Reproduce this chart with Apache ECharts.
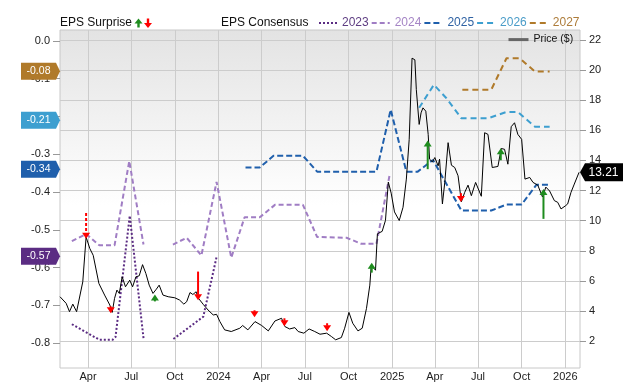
<!DOCTYPE html>
<html><head><meta charset="utf-8">
<script src="https://cdn.jsdelivr.net/npm/echarts@6/dist/echarts.min.js"></script>
<style>html,body{margin:0;padding:0;background:#fff}#c{width:640px;height:382px}</style>
</head><body><div id="c"></div>
<script>
const FONT = '"Liberation Sans", Arial, Helvetica, sans-serif';

// ---------- data ----------
const priceDates = ['2023-02-01','2023-02-14','2023-02-21','2023-02-28','2023-03-08','2023-03-21','2023-03-28','2023-04-05','2023-04-12','2023-04-24',
'2023-05-06','2023-05-17','2023-05-22','2023-05-27','2023-06-01','2023-06-06','2023-06-12','2023-06-19','2023-06-28','2023-07-04',
'2023-07-11','2023-07-18','2023-07-25','2023-08-01','2023-08-08','2023-08-16','2023-08-23','2023-08-29','2023-09-06','2023-09-17',
'2023-10-01','2023-10-11','2023-10-20','2023-10-26','2023-11-02','2023-11-08','2023-11-15','2023-11-19','2023-11-30','2023-12-10',
'2023-12-21','2023-12-28','2024-01-04','2024-01-14','2024-01-28','2024-02-15','2024-02-21','2024-03-03','2024-03-18','2024-04-01',
'2024-04-15','2024-04-29','2024-05-13','2024-05-20','2024-05-30','2024-06-10','2024-06-17','2024-06-29','2024-07-10','2024-07-22',
'2024-08-02','2024-08-16','2024-08-26','2024-09-04','2024-09-16','2024-09-23','2024-10-02','2024-10-10','2024-10-21','2024-10-30',
'2024-11-08','2024-11-15','2024-11-18','2024-11-27','2024-12-01','2024-12-11','2024-12-18','2024-12-24','2024-12-30','2025-01-06',
'2025-01-16','2025-01-24','2025-01-31','2025-02-06','2025-02-12','2025-02-18','2025-02-21','2025-02-27','2025-03-03','2025-03-07',
'2025-03-13','2025-03-18','2025-03-21','2025-03-27','2025-04-01','2025-04-08','2025-04-11','2025-04-17','2025-04-22','2025-04-29',
'2025-05-06','2025-05-13','2025-05-20','2025-05-27','2025-06-03','2025-06-10','2025-06-17','2025-06-26','2025-07-08','2025-07-15',
'2025-07-22','2025-07-31','2025-08-12','2025-08-19','2025-08-26','2025-09-02','2025-09-09','2025-09-16','2025-09-23','2025-10-01',
'2025-10-08','2025-10-18','2025-10-25','2025-11-04','2025-11-14','2025-11-21','2025-11-29','2025-12-09','2025-12-16','2025-12-23',
'2026-01-01','2026-01-06','2026-01-13','2026-01-20','2026-01-30'];
const priceValues = [4.95,4.51,3.96,4.46,3.96,5.94,8.91,8.14,7.70,5.83,
5.06,4.40,3.91,4.84,5.39,5.17,6.27,5.61,6.05,5.61,
6.27,6.34,7.08,6.49,5.72,5.17,5.45,5.72,5.06,4.95,
4.88,4.73,4.46,4.62,5.23,5.10,5.28,4.88,4.44,4.07,
3.74,3.78,3.30,2.75,2.64,2.86,3.04,2.75,3.30,3.04,
2.68,3.34,3.52,2.97,2.81,2.90,2.64,2.53,2.81,2.64,
2.46,2.53,2.31,2.09,2.24,2.86,3.91,3.19,2.68,2.86,
4.18,5.72,7.04,6.71,9.13,9.29,10.02,12.56,11.83,10.58,
10.01,10.89,12.76,15.40,20.79,20.68,18.70,16.39,17.16,17.49,
17.27,15.73,14.08,13.90,14.19,13.64,14.08,11.11,12.54,15.18,
13.68,13.53,12.98,11.26,11.88,12.36,11.66,12.54,11.62,15.84,
15.73,13.53,13.60,14.79,14.74,13.75,16.24,16.50,15.73,15.40,
12.76,12.87,12.54,12.36,11.57,12.23,11.97,11.33,11.22,10.78,
10.98,11.11,11.88,12.43,13.21];

const eps2023Dates  = ['2023-02-26','2023-04-25','2023-05-23','2023-05-29','2023-06-28','2023-07-27','2023-08-20','2023-09-28','2023-11-30','2023-12-28'];
const eps2023Values = [-0.750,-0.791,-0.791,-0.784,-0.463,-0.787,null,-0.789,-0.730,-0.572];

const eps2024Dates  = ['2023-02-26','2023-03-28','2023-04-25','2023-05-27','2023-06-27','2023-07-27','2023-08-20','2023-09-27','2023-10-26','2023-11-26','2023-12-28',
'2024-01-28','2024-02-25','2024-03-28','2024-04-29','2024-06-27','2024-07-27','2024-09-27','2024-10-28','2024-11-29','2024-12-27'];
const eps2024Values = [-0.530,-0.511,-0.541,-0.541,-0.318,-0.539,null,-0.539,-0.521,-0.568,-0.373,
-0.574,-0.467,-0.467,-0.434,-0.434,-0.519,-0.521,-0.537,-0.537,-0.353];

const eps2025Dates  = ['2024-02-27','2024-03-28','2024-04-26','2024-06-27','2024-07-27','2024-11-29','2024-12-29','2025-01-31','2025-02-24','2025-03-28',
'2025-05-27','2025-07-29','2025-08-30','2025-10-01','2025-11-01','2025-11-29'];
const eps2025Values = [-0.335,-0.335,-0.304,-0.304,-0.346,-0.346,-0.182,-0.346,-0.346,-0.315,
-0.449,-0.449,-0.433,-0.433,-0.381,-0.381];

const eps2026Dates  = ['2025-02-27','2025-03-30','2025-04-25','2025-05-27','2025-07-22','2025-08-30','2025-09-23','2025-10-29','2025-11-29'];
const eps2026Values = [-0.177,-0.116,-0.151,-0.205,-0.205,-0.188,-0.188,-0.227,-0.227];

const eps2027Dates  = ['2025-05-29','2025-07-29','2025-08-30','2025-09-27','2025-10-29','2025-11-29'];
const eps2027Values = [-0.129,-0.129,-0.046,-0.046,-0.081,-0.081];

const surpriseDates  = ['2023-03-28','2023-05-19','2023-08-20','2023-11-19','2024-03-17','2024-05-19','2024-08-17','2024-11-19','2025-03-17','2025-05-26','2025-08-18','2025-11-16'];
const surpriseFrom   = [10.51,4.31,4.64,6.62,4.05,3.52,3.19,6.55,13.42,11.83,14.01,10.12];
const surpriseTo     = [8.80,3.85,5.10,4.71,3.58,2.99,2.66,7.21,15.33,11.24,14.81,12.10];
const surpriseDashed = [1,0,0,0,0,0,0,0,0,0,0,0];

const badgeYears  = ['2027','2026','2025','2023'];
const badgeValues = [-0.08,-0.21,-0.34,-0.57];

const xTickDates = ['2023-04-01','2023-07-01','2023-10-01','2024-01-01','2024-04-01','2024-07-01','2024-10-01','2025-01-01','2025-04-01','2025-07-01','2025-10-01','2026-01-01'];
const epsTicks   = [0,-0.1,-0.2,-0.3,-0.4,-0.5,-0.6,-0.7,-0.8];
const priceTicks = [2,4,6,8,10,12,14,16,18,20,22];
const xStart = '2023-02-01', xEnd = '2026-02-01';

// ---------- helpers ----------
function ts(s){ const p = s.split('-').map(Number); return Date.UTC(p[0], p[1]-1, p[2]); }
const MONTHS = ['Jan','Feb','Mar','Apr','May','Jun','Jul','Aug','Sep','Oct','Nov','Dec'];
const yearColors = {'2023':'#5b2c83','2024':'#a07dc4','2025':'#1f5fac','2026':'#3d9fd0','2027':'#b07a2a'};
const yearText   = {'2023':'#5e3d82','2024':'#a585c5','2025':'#2f62a3','2026':'#4a9cc8','2027':'#ad7c3a'};
const yearDash   = {'2023':[2,2],'2024':[5,3],'2025':[6,3],'2026':[6,4],'2027':[6,4]};
const epsSets = {'2023':[eps2023Dates,eps2023Values],'2024':[eps2024Dates,eps2024Values],'2025':[eps2025Dates,eps2025Values],'2026':[eps2026Dates,eps2026Values],'2027':[eps2027Dates,eps2027Values]};
const xMin = ts(xStart), xMax = ts(xEnd);
const HIDE_SYMBOL = {color:'rgba(0,0,0,0)', borderColor:'rgba(0,0,0,0)', borderWidth:0, opacity:0};

function epsSeries(year){
  const [ds, vs] = epsSets[year];
  const s = {
    type:'line', name:year, xAxisIndex:0, yAxisIndex:0, symbol:'none', showSymbol:false,
    connectNulls:false, z:3, silent:true,
    lineStyle:{color:yearColors[year], width:2, type:yearDash[year]},
    itemStyle:{color:yearColors[year]},
    data: ds.map((d,i)=>[ts(d), vs[i] === null ? '-' : vs[i]])
  };
  const bi = badgeYears.indexOf(year);
  if (bi >= 0){
    s.markPoint = {
      silent:true, animation:false,
      symbol:'path://M0,0L35,0L39,8.5L35,17L0,17Z', symbolSize:[39,17], symbolKeepAspect:false,
      symbolOffset:[-19.5,0],
      itemStyle:{color:yearColors[year]},
      label:{show:true, position:'inside', color:'#fff', fontSize:10.5, fontFamily:FONT, offset:[-2,0],
        formatter:(p)=>p.value.toFixed(2)},
      data:[{coord:[xMin, badgeValues[bi]], value:badgeValues[bi]}]
    };
  }
  return s;
}

const lastPrice = priceValues[priceValues.length-1];

const option = {
  animation:false,
  textStyle:{fontFamily:FONT},
  grid:{left:60, right:60, top:30, bottom:12, show:true, borderColor:'#c8c8c8', borderWidth:1,
    backgroundColor:{type:'linear', x:0, y:0, x2:0, y2:1, colorStops:[{offset:0,color:'#e3e3e3'},{offset:0.52,color:'#ffffff'},{offset:1,color:'#ffffff'}]}},
  legend:[
    {data:['2023','2024','2025','2026','2027'].map(y=>({name:y, textStyle:{color:yearText[y]}, itemStyle:HIDE_SYMBOL})),
     left:318, top:17, padding:0, itemWidth:18, itemHeight:14, itemGap:2, selectedMode:false,
     textStyle:{fontSize:12, fontFamily:FONT}},
    {data:[{name:'Price ($)', itemStyle:HIDE_SYMBOL, lineStyle:{color:'#666', width:3}}],
     left:507, top:34, padding:0, itemWidth:20, itemHeight:14, selectedMode:false,
     textStyle:{fontSize:10.5, fontFamily:FONT, color:'#111'}}
  ],
  xAxis:{type:'value', min:xMin, max:xMax,
    axisLine:{show:false}, axisTick:{show:false, customValues:xTickDates.map(ts)},
    splitLine:{show:true, lineStyle:{color:'#cccccc', width:1}},
    axisLabel:{customValues:xTickDates.map(ts), margin:3, fontSize:11, color:'#222', fontFamily:FONT,
      formatter:(v)=>{ const d=new Date(v); return d.getUTCMonth()===0 ? String(d.getUTCFullYear()) : MONTHS[d.getUTCMonth()]; }}},
  yAxis:[
    {type:'value', position:'left', min:-0.8658, max:0.0289,
     axisLine:{show:false}, splitLine:{show:false},
     axisTick:{show:true, length:7, customValues:epsTicks, lineStyle:{color:'#999'}},
     axisLabel:{customValues:epsTicks, margin:10, fontSize:11, color:'#222', fontFamily:FONT, formatter:(v)=>v.toFixed(1)}},
    {type:'value', position:'right', min:0.218, max:22.66,
     axisLine:{show:false},
     splitLine:{show:true, lineStyle:{color:'#cccccc', width:1}},
     axisTick:{show:true, length:6, customValues:priceTicks, lineStyle:{color:'#999'}},
     axisLabel:{customValues:priceTicks, margin:9, fontSize:11, color:'#222', fontFamily:FONT}}
  ],
  graphic:[
    {type:'text', left:60, top:17, style:{text:'EPS Surprise', font:'12px '+FONT, fill:'#111'}},
    {type:'polygon', shape:{points:[[134.5,23.5],[138.5,18.5],[142.5,23.5]]}, style:{fill:'#1e8c1e'}},
    {type:'rect', shape:{x:137.3, y:23, width:2.4, height:4.5}, style:{fill:'#1e8c1e'}},
    {type:'rect', shape:{x:146.8, y:18.5, width:2.4, height:4.5}, style:{fill:'#ff0000'}},
    {type:'polygon', shape:{points:[[144,23],[148,28],[152,23]]}, style:{fill:'#ff0000'}},
    {type:'text', left:221, top:17, style:{text:'EPS Consensus', font:'12px '+FONT, fill:'#111'}}
  ],
  series:[
    epsSeries('2023'), epsSeries('2024'), epsSeries('2025'), epsSeries('2026'), epsSeries('2027'),
    {type:'line', name:'Price ($)', xAxisIndex:0, yAxisIndex:1, symbol:'none', showSymbol:false, z:4, silent:true,
     lineStyle:{color:'#000', width:1}, itemStyle:{color:'#666'},
     data: priceDates.map((d,i)=>[ts(d), priceValues[i]]),
     markPoint:{silent:true, animation:false,
       symbol:'path://M5,0L43,0L43,17L5,17L0,8.5Z', symbolSize:[43,18], symbolKeepAspect:false, symbolOffset:[21.5,0],
       itemStyle:{color:'#000'},
       label:{show:true, position:'inside', color:'#fff', fontSize:12, fontFamily:FONT, offset:[2,0], formatter:(p)=>p.value.toFixed(2)},
       data:[{coord:[xMax, lastPrice], value:lastPrice}]}},
    {type:'custom', name:'surprise', xAxisIndex:0, yAxisIndex:1, z:6, silent:true,
     data: surpriseDates.map((d,i)=>[ts(d), surpriseFrom[i], surpriseTo[i], surpriseDashed[i]]),
     encode:{x:0, y:[1,2]},
     renderItem:function(params, api){
       const x = api.value(0), a = api.value(1), b = api.value(2), dashed = api.value(3);
       const p0 = api.coord([x,a]), p1 = api.coord([x,b]);
       const up = b > a;
       const color = up ? '#1e8c1e' : '#ff0000';
       const dir = up ? -1 : 1;
       const hh = 6, hw = 4;
       const baseY = p1[1] - dir*hh;
       const children = [];
       if (dir*(baseY - p0[1]) > 0){
         children.push({type:'line', shape:{x1:p0[0], y1:p0[1], x2:p0[0], y2:baseY+dir*0.5},
           style:{stroke:color, lineWidth:2, lineDash: dashed ? [3,2] : null}});
       }
       children.push({type:'polygon', shape:{points:[[p1[0]-hw, baseY],[p1[0]+hw, baseY],[p1[0], p1[1]]]}, style:{fill:color}});
       return {type:'group', children:children};
     }}
  ]
};

const chart = echarts.init(document.getElementById('c'), null, {renderer:'canvas'});
chart.setOption(option);
</script>
</body></html>
